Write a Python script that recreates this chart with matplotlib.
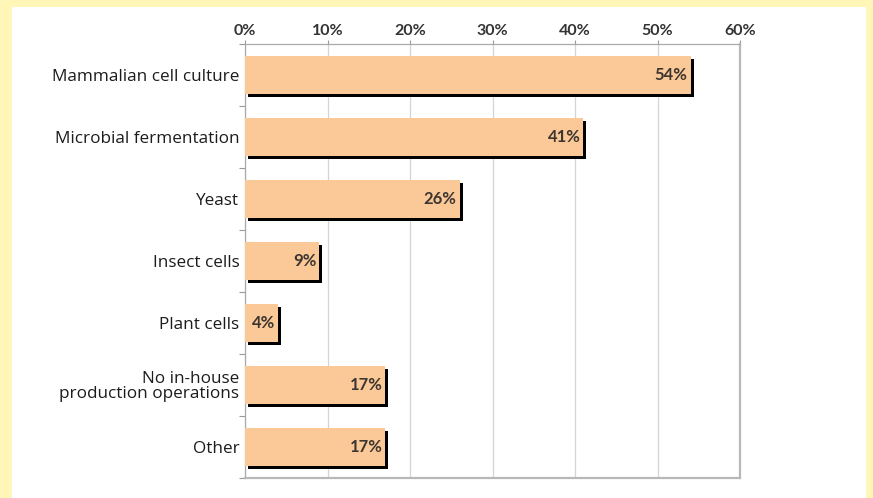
import matplotlib
matplotlib.use("Agg")
import matplotlib.pyplot as plt
import matplotlib.patheffects as pe
from matplotlib.patches import Rectangle
from matplotlib.ticker import FixedLocator
import numpy as np

categories = [
    "Mammalian cell culture",
    "Microbial fermentation",
    "Yeast",
    "Insect cells",
    "Plant cells",
    "No in-house\nproduction operations",
    "Other",
]
shares = [54, 41, 26, 9, 4, 17, 17]
x_ticks = [0, 10, 20, 30, 40, 50, 60]

bar_color = "#fbc998"
frame_color = "#fff6b8"
grid_color = "#d4d4d4"
text_color = "#1c1c1c"
value_color = "#3d3530"

fig = plt.figure(figsize=(8.73, 4.98), dpi=100, facecolor=frame_color)
# white panel inside the yellow frame
fig.patches.append(Rectangle((12 / 873, 0), (866 - 12) / 873, 1 - 7 / 498,
                             transform=fig.transFigure, facecolor="white",
                             edgecolor="none", zorder=-1))

ax = fig.add_axes([245 / 873, 1 - 478 / 498, 495 / 873, 434 / 498])
ax.set_facecolor("white")

y = np.arange(len(categories))
shadow = pe.SimplePatchShadow(offset=(2.3, -2.3), shadow_rgbFace="black", alpha=1.0)
bars = ax.barh(y, shares, height=0.61, color=bar_color, edgecolor="none",
               zorder=3, path_effects=[shadow, pe.Normal()])

for yi, v in zip(y, shares):
    ax.text(v - 0.35, yi, f"{v}%", ha="right", va="center", fontsize=12,
            fontweight="bold", family="Lato", color=value_color, zorder=4)

ax.set_xlim(0, 60)
ax.set_ylim(len(categories) - 0.5, -0.5)
ax.set_xticks(x_ticks)
ax.set_xticklabels([f"{t}%" for t in x_ticks], fontsize=11.5, fontweight="bold",
                   family="Lato", color="#333333")
ax.xaxis.tick_top()
ax.tick_params(axis="x", direction="out", length=3, width=0.8, color="#999999", pad=1)

ax.set_yticks(y)
ax.set_yticklabels(categories, fontsize=12.3, family="Open Sans", color=text_color,
                   linespacing=0.95)
ax.tick_params(axis="y", which="major", length=0, pad=4)
ax.yaxis.set_minor_locator(FixedLocator(np.arange(-0.5, len(categories), 1.0)))
ax.tick_params(axis="y", which="minor", direction="out", length=4, width=0.8,
               color="#999999")

ax.grid(axis="x", color=grid_color, linewidth=0.9, zorder=0)
ax.set_axisbelow(True)
for side in ["left", "top"]:
    ax.spines[side].set_color("#aaaaaa")
    ax.spines[side].set_linewidth(0.9)
for side in ["right", "bottom"]:
    ax.spines[side].set_color("#b8b8b8")
    ax.spines[side].set_linewidth(1.6)

fig.savefig("out.png", dpi=100, facecolor=fig.get_facecolor())
